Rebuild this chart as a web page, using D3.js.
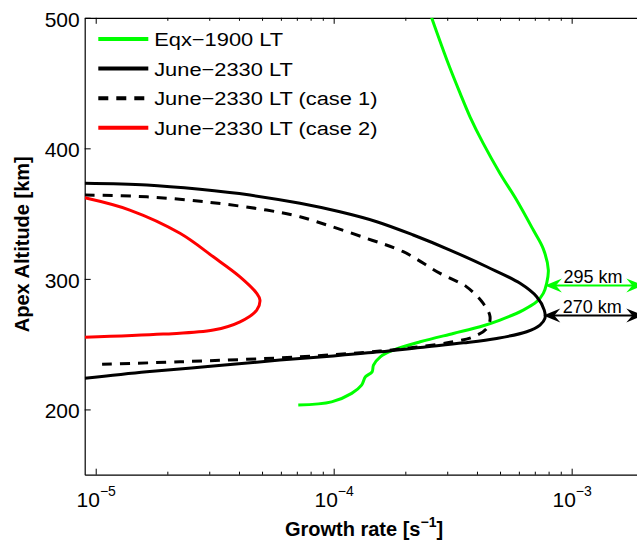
<!DOCTYPE html>
<html>
<head>
<meta charset="utf-8">
<script src="https://cdn.jsdelivr.net/npm/d3@7"></script>
<style>
body { margin: 0; background: #fff; }
svg { display: block; font-family: "Liberation Sans", Arial, sans-serif; }
</style>
</head>
<body>
<svg id="chart"></svg>
<script>
// Growth rate vs apex altitude profiles

// axis ranges and ticks
const rateRange = [8.99e-6, 2e-3];
const altRange = [150, 500];
const decadeTicks = [1e-5, 1e-4, 1e-3];
const decadeExp = ["\u22125", "\u22124", "\u22123"];
const altTicks = [200, 300, 400, 500];

// Eqx-1900 LT (green)
const eqxRate = [2.58e-4, 2.99e-4, 3.40e-4, 3.74e-4, 4.25e-4, 5.00e-4, 5.87e-4, 6.90e-4, 7.60e-4, 7.98e-4,
    7.85e-4, 7.60e-4, 7.13e-4, 6.26e-4, 5.00e-4, 4.12e-4, 3.18e-4, 2.31e-4, 1.78e-4, 1.57e-4,
    1.47e-4, 1.45e-4, 1.36e-4, 1.31e-4, 1.19e-4, 9.8e-5, 7.1e-5];
const eqxAlt = [500, 467.7, 442.1, 424.2, 403.8, 380.8, 360.4, 337.4, 323, 306.7,
    296.6, 288.9, 282.5, 276.1, 268.4, 263.3, 258.2, 251.8, 245.4, 240.3,
    233.9, 228.8, 225.0, 218.6, 212.3, 205.8, 203.3];

// June-2330 LT (black solid)
const juneRate = [9.0e-6, 1.64e-5, 2.74e-5, 4.45e-5, 7.22e-5, 1.062e-4, 1.517e-4, 2.16e-4, 3.08e-4, 4.40e-4,
    6.07e-4, 7.13e-4, 7.67e-4, 7.72e-4, 7.36e-4, 6.47e-4, 4.84e-4, 3.51e-4, 2.31e-4, 1.566e-4,
    9.64e-5, 5.94e-5, 3.12e-5, 1.64e-5, 9.0e-6];
const juneAlt = [373.2, 371.9, 368.6, 364.2, 357.9, 351.4, 343.8, 333.6, 322.1, 309.3,
    296.6, 286.3, 276.1, 269.7, 264.6, 259.5, 254.4, 251.0, 247.5, 244.1,
    240.8, 237.8, 233.2, 228.8, 223.8];

// June-2330 LT (case 1) (black dashed)
const case1Rate = [9.0e-6, 1.64e-5, 3.02e-5, 5.23e-5, 7.22e-5, 8.49e-5, 1.377e-4, 1.96e-4, 2.80e-4, 3.62e-4,
    4.25e-4, 4.54e-4, 4.40e-4, 3.86e-4, 3.18e-4, 2.31e-4, 1.566e-4, 7.22e-5, 2.26e-5, 1.04e-5];
const case1Alt = [364.2, 362.9, 358.6, 352.7, 347.6, 343.8, 331.0, 320.8, 304.2, 293.9,
    281.2, 271.0, 262.1, 255.6, 251.8, 248.1, 244.7, 240.3, 236.5, 234.5];

// June-2330 LT (case 2) (red)
const case2Rate = [9.0e-6, 1.39e-5, 2.26e-5, 3.12e-5, 4.04e-5, 4.75e-5, 4.90e-5, 4.75e-5, 4.04e-5, 3.12e-5, 1.92e-5, 9.0e-6];
const case2Alt = [362.1, 352.7, 334.9, 316.9, 301.6, 288.9, 283.8, 276.1, 267.1, 260.8, 257.7, 255.2];

// peak altitude markers
const peakRate = [7.72e-4, 7.6e-4];
const peakAlt = [295, 272];
const peakLabel = ["295 km", "270 km"];
const peakColor = ["#00ff00", "#000000"];

const seriesNames = ["Eqx\u22121900 LT", "June\u22122330 LT", "June\u22122330 LT (case 1)", "June\u22122330 LT (case 2)"];
const seriesColors = ["#00ff00", "#000000", "#000000", "#ff0000"];
const seriesDash = [null, null, "10,8", null];
const seriesData = [
    d3.zip(eqxRate, eqxAlt),
    d3.zip(juneRate, juneAlt),
    d3.zip(case1Rate, case1Alt),
    d3.zip(case2Rate, case2Alt)
];

const W = 637, H = 541;
const margin = { top: 17.8, left: 84.7 };
const plotW = 558.6, plotH = 456.9;

const svg = d3.select("#chart").attr("width", W).attr("height", H);
const g = svg.append("g").attr("transform", `translate(${margin.left},${margin.top})`);

const x = d3.scaleLog().domain(rateRange).range([0, plotW]);
const y = d3.scaleLinear().domain(altRange).range([plotH, 0]);

svg.append("defs").append("clipPath").attr("id", "plotclip")
    .append("rect").attr("width", plotW).attr("height", plotH);

// minor log ticks
const minorTicks = [];
decadeTicks.forEach(d => { for (let k = 2; k <= 9; k++) if (d * k <= rateRange[1]) minorTicks.push(d * k); });

// bottom axis
const xAxis = g.append("g")
    .attr("transform", `translate(0,${plotH})`)
    .call(d3.axisBottom(x).tickValues(decadeTicks).tickSizeInner(-6).tickSizeOuter(0).tickPadding(17).tickFormat(""));
xAxis.attr("font-size", 21).attr("font-family", null);
xAxis.selectAll(".tick text").each(function (d, i) {
    const t = d3.select(this).attr("fill", "#000");
    t.append("tspan").text("10");
    t.append("tspan").attr("dy", -11).attr("font-size", 14).text(decadeExp[i]);
});
g.append("g")
    .attr("transform", `translate(0,${plotH})`)
    .call(d3.axisBottom(x).tickValues(minorTicks).tickSizeInner(-3).tickSizeOuter(0).tickFormat(""))
    .call(a => a.select(".domain").remove());

// top axis (box)
g.append("g")
    .call(d3.axisTop(x).tickValues(decadeTicks).tickSizeInner(-6).tickSizeOuter(0).tickFormat(""));
g.append("g")
    .call(d3.axisTop(x).tickValues(minorTicks).tickSizeInner(-3).tickSizeOuter(0).tickFormat(""))
    .call(a => a.select(".domain").remove());

// left axis
const yAxis = g.append("g")
    .call(d3.axisLeft(y).tickValues(altTicks).tickSizeInner(-6).tickSizeOuter(0).tickPadding(5));
yAxis.attr("font-size", 21).attr("font-family", null);
yAxis.selectAll(".tick text").attr("dy", "0.4em").attr("fill", "#000");

// right axis
g.append("g")
    .attr("transform", `translate(${plotW},0)`)
    .call(d3.axisRight(y).tickValues(altTicks).tickSizeInner(-6).tickSizeOuter(0).tickFormat(""));

g.selectAll(".domain").attr("stroke", "#000").attr("stroke-width", 1.2);
g.selectAll(".tick line").attr("stroke", "#000");

// axis labels
const xLabel = g.append("text")
    .attr("x", plotW / 2)
    .attr("y", 518)
    .attr("text-anchor", "middle")
    .style("font-size", "20px")
    .style("font-weight", "bold");
xLabel.append("tspan").text("Growth rate [s");
xLabel.append("tspan").attr("dy", -9).style("font-size", "14px").text("\u22121");
xLabel.append("tspan").attr("dy", 9).text("]");

g.append("text")
    .attr("transform", `translate(-56,${plotH / 2 - 2}) rotate(-90)`)
    .attr("text-anchor", "middle")
    .style("font-size", "20px")
    .style("font-weight", "bold")
    .text("Apex Altitude [km]");

// curves
const line = d3.line()
    .x(d => x(d[0]))
    .y(d => y(d[1]))
    .curve(d3.curveCatmullRom.alpha(0.5));

const curves = g.append("g").attr("clip-path", "url(#plotclip)");
seriesData.forEach(function (d, i) {
    curves.append("path")
        .datum(d)
        .attr("fill", "none")
        .attr("stroke", seriesColors[i])
        .attr("stroke-width", 3)
        .attr("stroke-dasharray", seriesDash[i])
        .attr("d", line);
});

// peak altitude double arrows
function arrowHead(tx, ty, dir) {
    const L = 17, w = 7, notch = 11;
    return `M${tx},${ty}L${tx + dir * L},${ty - w}L${tx + dir * notch},${ty}L${tx + dir * L},${ty + w}Z`;
}
peakAlt.forEach(function (alt, i) {
    const x0 = x(peakRate[i]), x1 = x(rateRange[1]), yy = y(alt);
    g.append("line")
        .attr("x1", x0 + 8).attr("x2", x1 - 8)
        .attr("y1", yy).attr("y2", yy)
        .attr("stroke", peakColor[i])
        .attr("stroke-width", 2);
    g.append("path").attr("d", arrowHead(x0, yy, 1)).attr("fill", peakColor[i]);
    g.append("path").attr("d", arrowHead(x1, yy, -1)).attr("fill", peakColor[i]);
    g.append("text")
        .attr("x", (x0 + x1) / 2 - 1)
        .attr("y", yy - 2.5)
        .attr("text-anchor", "middle")
        .style("font-size", "18px")
        .text(peakLabel[i]);
});

// legend
const legend = g.selectAll(".legend")
    .data(seriesNames)
    .enter().append("g")
    .attr("class", "legend")
    .attr("transform", (d, i) => `translate(0,${21.2 + i * 29.6})`);

legend.append("line")
    .attr("x1", 13.6).attr("x2", 63.6)
    .attr("stroke", (d, i) => seriesColors[i])
    .attr("stroke-width", 4)
    .attr("stroke-dasharray", (d, i) => seriesDash[i]);

legend.append("text")
    .attr("transform", "translate(69.5,7) scale(1.15,1)")
    .style("font-size", "19px")
    .text(d => d);
</script>
</body>
</html>
